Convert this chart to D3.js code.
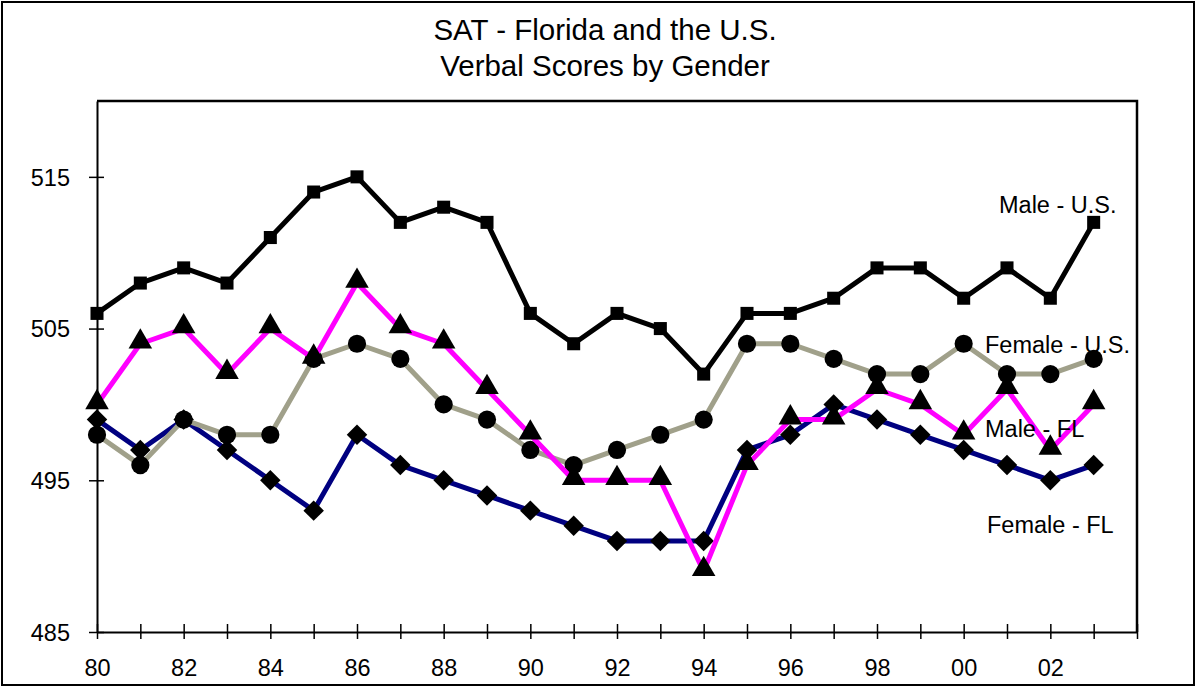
<!DOCTYPE html>
<html>
<head>
<meta charset="utf-8">
<script src="https://cdn.jsdelivr.net/npm/d3@7"></script>
<style>
  body { margin: 0; background: #fff; }
  text { font-family: "Liberation Sans", Arial, sans-serif; fill: #000; }
</style>
</head>
<body>
<div id="viz"></div>
<script>
const years = d3.range(1980, 2004);
const yTicks = [485, 495, 505, 515];

const maleUS = [506, 508, 509, 508, 511, 514, 515, 512, 513, 512, 506, 504, 506, 505, 502, 506, 506, 507, 509, 509, 507, 509, 507, 512];
const maleFL = [500, 504, 505, 502, 505, 503, 508, 505, 504, 501, 498, 495, 495, 495, 489, 496, 499, 499, 501, 500, 498, 501, 497, 500];
const femaleUS = [498, 496, 499, 498, 498, 503, 504, 503, 500, 499, 497, 496, 497, 498, 499, 504, 504, 503, 502, 502, 504, 502, 502, 503];
const femaleFL = [499, 497, 499, 497, 495, 493, 498, 496, 495, 494, 493, 492, 491, 491, 491, 497, 498, 500, 499, 498, 497, 496, 495, 496];

const series = [
  { name: 'Male - U.S.', values: maleUS, color: '#000000', marker: 'square', label: [999, 213] },
  { name: 'Female - U.S.', values: femaleUS, color: '#a0a08a', marker: 'circle', label: [985, 353] },
  { name: 'Male - FL', values: maleFL, color: '#ff00ff', marker: 'triangle', label: [985, 437] },
  { name: 'Female - FL', values: femaleFL, color: '#000080', marker: 'diamond', label: [987, 533] },
];
// draw order: back to front
const drawOrder = ['Female - FL', 'Female - U.S.', 'Male - FL', 'Male - U.S.'];

const width = 1196, height = 687;
const svg = d3.select('#viz').append('svg')
  .attr('width', width)
  .attr('height', height);

// chart border
svg.append('rect')
  .attr('x', 2).attr('y', 2)
  .attr('width', width - 4).attr('height', height - 4)
  .attr('fill', '#fff').attr('stroke', '#000').attr('stroke-width', 2);

// title
svg.append('text').attr('x', 605).attr('y', 40).attr('text-anchor', 'middle')
  .style('font-size', '29.5px').text('SAT - Florida and the U.S.');
svg.append('text').attr('x', 605).attr('y', 76).attr('text-anchor', 'middle')
  .style('font-size', '29.5px').text('Verbal Scores by Gender');

const x = d3.scaleLinear().domain([1980, 2004]).range([97, 1137]);
const y = d3.scaleLinear().domain([485, 520]).range([632, 101]);

// plot area border (top + right)
svg.append('path')
  .attr('d', `M${x(1980)},${y(520)}H${x(2004)}V${y(485)}`)
  .attr('fill', 'none').attr('stroke', '#000').attr('stroke-width', 2.5);

// axes
const xAxis = d3.axisBottom(x)
  .tickValues(d3.range(1980, 2005))
  .tickSize(0)
  .tickFormat(d => (d % 2 === 0 && d < 2004) ? String(d % 100).padStart(2, '0') : '');
const gx = svg.append('g')
  .attr('transform', `translate(0,${y(485)})`)
  .call(xAxis);
gx.select('.domain').attr('stroke', '#000').attr('stroke-width', 2);
gx.selectAll('.tick line').remove();
gx.selectAll('.tick').append('line')
  .attr('y1', -8).attr('y2', 7).attr('stroke', '#000').attr('stroke-width', 1.5);
gx.selectAll('.tick text').attr('dy', 0).attr('y', 44)
  .style('font-size', '23.5px').style('font-family', '"Liberation Sans", Arial, sans-serif').attr('fill', '#000');

const yAxis = d3.axisLeft(y).tickValues(yTicks).tickSize(0);
const gy = svg.append('g')
  .attr('transform', `translate(${x(1980)},0)`)
  .call(yAxis);
gy.select('.domain').attr('stroke', '#000').attr('stroke-width', 2);
gy.selectAll('.tick line').remove();
gy.selectAll('.tick').append('line')
  .attr('x1', -8).attr('x2', 7).attr('stroke', '#000').attr('stroke-width', 1.5);
gy.selectAll('.tick text').attr('x', -27).attr('dy', '0.35em')
  .style('font-size', '23.5px').style('font-family', '"Liberation Sans", Arial, sans-serif').attr('fill', '#000');

const line = d3.line()
  .x((d, i) => x(years[i]))
  .y(d => y(d));

const symbols = {
  square: { gen: d3.symbol(d3.symbolSquare, 170), rot: 0, dy: 0 },
  circle: { gen: d3.symbol(d3.symbolCircle, 260), rot: 0, dy: 0 },
  triangle: { gen: d3.symbol(d3.symbolTriangle, 240), rot: 0, dy: -2 },
  diamond: { gen: d3.symbol(d3.symbolSquare, 210), rot: 45, dy: 0 },
};

drawOrder.forEach(name => {
  const s = series.find(d => d.name === name);
  const m = symbols[s.marker];
  const g = svg.append('g').attr('class', 'series');
  g.append('path')
    .attr('d', line(s.values))
    .attr('fill', 'none')
    .attr('stroke', s.color)
    .attr('stroke-width', 5)
    .attr('stroke-linejoin', 'round');
  g.selectAll('path.marker')
    .data(s.values)
    .join('path')
    .attr('class', 'marker')
    .attr('transform', (d, i) => `translate(${x(years[i])},${y(d) + m.dy}) rotate(${m.rot})`)
    .attr('d', m.gen())
    .attr('fill', '#000');
});

// series labels
series.forEach(s => {
  svg.append('text')
    .attr('x', s.label[0]).attr('y', s.label[1])
    .style('font-size', '23.5px')
    .text(s.name);
});
</script>
</body>
</html>
